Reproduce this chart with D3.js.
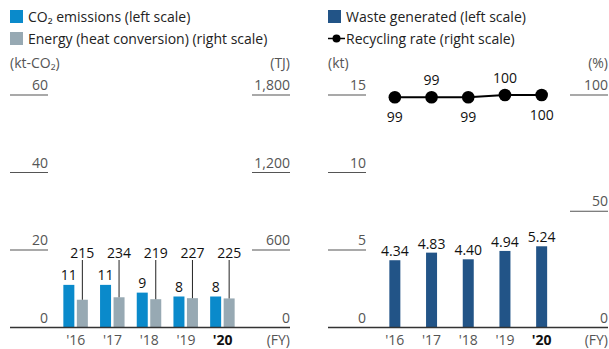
<!DOCTYPE html>
<html>
<head>
<meta charset="utf-8">
<script src="https://cdn.jsdelivr.net/npm/d3@7"></script>
<style>
  html, body { margin: 0; padding: 0; background: #fff; }
  svg { display: block; }
  text { font-family: "Open Sans", "Noto Sans", sans-serif; }
</style>
</head>
<body>
<svg id="chart" width="609" height="349"></svg>
<script>
// Fiscal years
const years = ["'16", "'17", "'18", "'19", "'20"];
// CO2 emissions (kt-CO2, left scale)
const co2 = [11, 11, 9, 8, 8];
// Energy, heat conversion (TJ, right scale)
const energy = [215, 234, 219, 227, 225];
// Waste generated (kt, left scale)
const waste = [4.34, 4.83, 4.40, 4.94, 5.24];
// Recycling rate (%, right scale)
const recycling = [99, 99, 99, 100, 100];
// Which recycling labels sit above the line
const recyclingAbove = [false, true, false, true, false];

const co2Ticks = [0, 20, 40, 60];
const energyTicks = [0, 600, 1200, 1800];
const wasteTicks = [0, 5, 10, 15];
const rateTicks = [0, 50, 100];

const C_CO2 = "#0a8acb";
const C_ENERGY = "#97a9b3";
const C_WASTE = "#225487";
const C_TICK = "#555";
const C_AXIS = "#333";
const C_LABEL = "#111";

const svg = d3.select("#chart");
const fmt = d3.format(",");

const baseY = 327.5, topY = 95;

function tickColumn(g, scale, ticks, xLeft, xRight, formatter) {
  g.selectAll(null).data(ticks.filter(d => d !== 0)).enter().append("line")
    .attr("x1", xLeft).attr("x2", xRight)
    .attr("y1", d => scale(d)).attr("y2", d => scale(d))
    .attr("stroke", C_TICK).attr("stroke-width", 1.2);
  g.selectAll(null).data(ticks).enter().append("text")
    .attr("x", xRight).attr("y", d => scale(d) - 5)
    .attr("text-anchor", "end")
    .attr("font-size", 14).attr("fill", C_TICK)
    .text(formatter);
}

function yearAxis(g, x, xLeft, xRight) {
  g.append("line")
    .attr("x1", xLeft).attr("x2", xRight)
    .attr("y1", baseY).attr("y2", baseY)
    .attr("stroke", C_AXIS).attr("stroke-width", 1.5);
  g.selectAll(null).data(years).enter().append("text")
    .attr("x", d => x(d) + x.bandwidth() / 2)
    .attr("y", 345)
    .attr("text-anchor", "middle")
    .attr("font-size", 14)
    .attr("font-weight", (d, i) => i === years.length - 1 ? 700 : 400)
    .attr("fill", (d, i) => i === years.length - 1 ? "#111" : C_TICK)
    .text(d => d);
  g.append("text")
    .attr("x", xRight).attr("y", 345)
    .attr("text-anchor", "end").attr("font-size", 14).attr("fill", C_TICK)
    .text("(FY)");
}

// ---------- Left panel: CO2 and energy ----------
{
  const g = svg.append("g");
  const yL = d3.scaleLinear().domain([0, 60]).range([baseY, topY]);
  const yR = d3.scaleLinear().domain([0, 1800]).range([baseY, topY]);
  const x = d3.scaleBand().domain(years).range([57.5, 241]).paddingInner(0).paddingOuter(0);
  const barW = 11;
  const cx = d => x(d) + x.bandwidth() / 2;

  // legend
  g.append("rect").attr("x", 10).attr("y", 10).attr("width", 13).attr("height", 13).attr("fill", C_CO2);
  g.append("text").attr("x", 28).attr("y", 22).attr("font-size", 14).attr("fill", "#222")
    .text("CO₂ emissions (left scale)");
  g.append("rect").attr("x", 10).attr("y", 32).attr("width", 13).attr("height", 13).attr("fill", C_ENERGY);
  g.append("text").attr("x", 28).attr("y", 44).attr("font-size", 14).attr("fill", "#222")
    .text("Energy (heat conversion) (right scale)");

  // units
  g.append("text").attr("x", 10).attr("y", 68).attr("font-size", 14).attr("fill", C_TICK).text("(kt-CO₂)");
  g.append("text").attr("x", 290).attr("y", 68).attr("text-anchor", "end").attr("font-size", 14).attr("fill", C_TICK).text("(TJ)");

  tickColumn(g, yL, co2Ticks, 10, 48, d => fmt(d));
  tickColumn(g, yR, energyTicks, 252, 290, d => fmt(d));

  // CO2 bars
  g.selectAll(null).data(co2).enter().append("rect")
    .attr("x", (d, i) => cx(years[i]) - 12.5)
    .attr("y", d => yL(d)).attr("width", barW).attr("height", d => baseY - yL(d))
    .attr("fill", C_CO2);
  g.selectAll(null).data(co2).enter().append("text")
    .attr("x", (d, i) => cx(years[i]) - 7)
    .attr("y", d => yL(d) - 5)
    .attr("text-anchor", "middle").attr("font-size", 14).attr("fill", C_LABEL)
    .text(d => d);

  // Energy bars
  g.selectAll(null).data(energy).enter().append("rect")
    .attr("x", (d, i) => cx(years[i]) + 1)
    .attr("y", d => yR(d)).attr("width", barW).attr("height", d => baseY - yR(d))
    .attr("fill", C_ENERGY);
  // leader lines and labels for energy
  g.selectAll(null).data(energy).enter().append("line")
    .attr("x1", (d, i) => cx(years[i]) + 6.5).attr("x2", (d, i) => cx(years[i]) + 6.5)
    .attr("y1", 260).attr("y2", d => yR(d))
    .attr("stroke", "#222").attr("stroke-width", 1);
  g.selectAll(null).data(energy).enter().append("text")
    .attr("x", (d, i) => cx(years[i]) + 6.5)
    .attr("y", 258)
    .attr("text-anchor", "middle").attr("font-size", 14).attr("fill", C_LABEL)
    .text(d => fmt(d));

  yearAxis(g, x, 10, 290);
}

// ---------- Right panel: waste and recycling ----------
{
  const g = svg.append("g");
  const yL = d3.scaleLinear().domain([0, 15]).range([baseY, topY]);
  const yR = d3.scaleLinear().domain([0, 100]).range([baseY, topY]);
  const x = d3.scaleBand().domain(years).range([376.5, 560]).paddingInner(0).paddingOuter(0);
  const barW = 11;
  const cx = d => x(d) + x.bandwidth() / 2;

  // legend
  g.append("rect").attr("x", 328).attr("y", 10).attr("width", 13).attr("height", 13).attr("fill", C_WASTE);
  g.append("text").attr("x", 346).attr("y", 22).attr("font-size", 14).attr("fill", "#222")
    .text("Waste generated (left scale)");
  g.append("line").attr("x1", 328).attr("x2", 345).attr("y1", 38.5).attr("y2", 38.5)
    .attr("stroke", "#000").attr("stroke-width", 1.5);
  g.append("circle").attr("cx", 336.5).attr("cy", 38.5).attr("r", 4).attr("fill", "#000");
  g.append("text").attr("x", 346).attr("y", 44).attr("font-size", 14).attr("fill", "#222")
    .text("Recycling rate (right scale)");

  // units
  g.append("text").attr("x", 328).attr("y", 68).attr("font-size", 14).attr("fill", C_TICK).text("(kt)");
  g.append("text").attr("x", 608).attr("y", 68).attr("text-anchor", "end").attr("font-size", 14).attr("fill", C_TICK).text("(%)");

  tickColumn(g, yL, wasteTicks, 328, 366, d => fmt(d));
  tickColumn(g, yR, rateTicks, 570, 608, d => fmt(d));

  // waste bars
  g.selectAll(null).data(waste).enter().append("rect")
    .attr("x", (d, i) => cx(years[i]) - barW / 2)
    .attr("y", d => yL(d)).attr("width", barW).attr("height", d => baseY - yL(d))
    .attr("fill", C_WASTE);
  g.selectAll(null).data(waste).enter().append("text")
    .attr("x", (d, i) => cx(years[i]))
    .attr("y", d => yL(d) - 4)
    .attr("text-anchor", "middle").attr("font-size", 14).attr("fill", C_LABEL)
    .text(d => d.toFixed(2));

  // recycling line
  const line = d3.line().x((d, i) => cx(years[i])).y(d => yR(d));
  g.append("path").datum(recycling).attr("d", line)
    .attr("fill", "none").attr("stroke", "#000").attr("stroke-width", 2);
  g.selectAll(null).data(recycling).enter().append("circle")
    .attr("cx", (d, i) => cx(years[i])).attr("cy", d => yR(d)).attr("r", 6.3)
    .attr("fill", "#000");
  g.selectAll(null).data(recycling).enter().append("text")
    .attr("x", (d, i) => cx(years[i]))
    .attr("y", (d, i) => recyclingAbove[i] ? yR(d) - 12 : yR(d) + 25)
    .attr("text-anchor", "middle").attr("font-size", 14).attr("fill", C_LABEL)
    .text(d => d);

  yearAxis(g, x, 328, 608);
}
</script>
</body>
</html>
